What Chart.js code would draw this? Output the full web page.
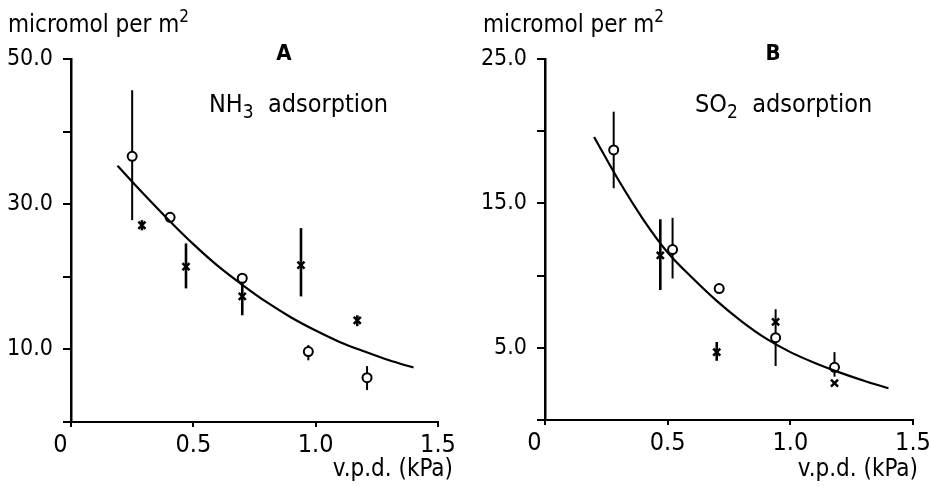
<!DOCTYPE html>
<html>
<head>
<meta charset="utf-8">
<script src="https://cdn.jsdelivr.net/npm/chart.js@4.4.1/dist/chart.umd.min.js"></script>
<style>
  html, body { margin: 0; padding: 0; background: #fff; }
  #wrap { position: relative; width: 931px; height: 486px; }
  canvas { position: absolute; top: 0; }
  #chartA { left: 0; }
  #chartB { left: 466px; }
</style>
</head>
<body>
<div id="wrap">
  <canvas id="chartA" width="466" height="486"></canvas>
  <canvas id="chartB" width="465" height="486"></canvas>
</div>
<script>
// ---- Panel A: NH3 adsorption (micromol per m2) against v.p.d. (kPa) ----
const nh3CircleVpd  = [0.25, 0.405, 0.70, 0.97, 1.21];
const nh3CircleVal  = [36.6, 28.2, 19.8, 9.7, 6.1];
const nh3CircleLow  = [27.8, null, null, 8.5, 4.4];
const nh3CircleHigh = [45.7, null, null, 10.6, 7.7];

const nh3CrossVpd  = [0.29, 0.47, 0.70, 0.94, 1.17];
const nh3CrossVal  = [27.1, 21.4, 17.3, 21.6, 14.0];
const nh3CrossLow  = [26.4, 18.4, 14.7, 17.3, 13.2];
const nh3CrossHigh = [27.8, 24.6, 19.6, 26.7, 14.7];

const nh3CurveVpd = [0.19, 0.3, 0.4, 0.5, 0.6, 0.7, 0.8, 0.9, 1.0, 1.1, 1.2, 1.3, 1.4];
const nh3CurveVal = [35.3, 31.3, 27.8, 24.5, 21.5, 18.9, 16.5, 14.4, 12.6, 11.0, 9.7, 8.5, 7.5];

// ---- Panel B: SO2 adsorption ----
const so2CircleVpd  = [0.28, 0.52, 0.71, 0.94, 1.18];
const so2CircleVal  = [18.7, 11.8, 9.1, 5.7, 3.65];
const so2CircleLow  = [16.05, 9.8, null, 3.74, 3.0];
const so2CircleHigh = [21.35, 14.0, null, 7.67, 4.7];

const so2CrossVpd  = [0.47, 0.70, 0.94, 1.18];
const so2CrossVal  = [11.4, 4.7, 6.8, 2.55];
const so2CrossLow  = [9.0, 4.1, null, null];
const so2CrossHigh = [13.9, 5.4, null, null];

const so2CurveVpd = [0.2, 0.3, 0.4, 0.5, 0.6, 0.7, 0.8, 0.9, 1.0, 1.1, 1.2, 1.3, 1.4];
const so2CurveVal = [19.6, 16.6, 13.9, 11.6, 9.85, 8.25, 6.85, 5.65, 4.7, 3.95, 3.3, 2.72, 2.2];

// ---- Axis ticks ----
const vpdTicks = [0, 0.5, 1.0, 1.5];
const nh3LabelledTicks = [50, 30, 10];
const so2LabelledTicks = [25, 15, 5];

const FONT = "'DejaVu Sans Condensed', 'Liberation Sans Narrow', 'DejaVu Sans', sans-serif";

const pts = (xs, ys) => xs.map((x, i) => ({ x: x, y: ys[i] }));

// vertical error bars, drawn under the markers
const errorBars = {
  id: 'errorBars',
  beforeDatasetsDraw(chart) {
    const ctx = chart.ctx, xs = chart.scales.x, ys = chart.scales.y;
    chart.data.datasets.forEach(ds => {
      if (!ds.errLow) return;
      ctx.save();
      ctx.strokeStyle = '#000';
      ctx.lineWidth = ds.errWidth || 2;
      ds.data.forEach((p, i) => {
        const lo = ds.errLow[i], hi = ds.errHigh[i];
        if (lo == null || hi == null) return;
        const px = xs.getPixelForValue(p.x);
        ctx.beginPath();
        ctx.moveTo(px, ys.getPixelForValue(lo));
        ctx.lineTo(px, ys.getPixelForValue(hi));
        ctx.stroke();
      });
      ctx.restore();
    });
  }
};

// free text runs (with sub/superscript pieces): axis title, panel letter, gas label
const panelText = {
  id: 'panelText',
  afterDraw(chart, args, opts) {
    const ctx = chart.ctx;
    ctx.save();
    ctx.fillStyle = '#000';
    ctx.textBaseline = 'alphabetic';
    (opts.items || []).forEach(it => {
      const parts = it.parts || [{ text: it.text }];
      const fontOf = pt => (pt.bold || it.bold ? 'bold ' : '') + (pt.size || it.size || 22) + 'px ' + FONT;
      let total = 0;
      parts.forEach(pt => { ctx.font = fontOf(pt); total += ctx.measureText(pt.text).width; });
      let x = it.x;
      if (it.align === 'center') x -= total / 2;
      else if (it.align === 'right') x -= total;
      ctx.textAlign = 'left';
      parts.forEach(pt => {
        ctx.font = fontOf(pt);
        ctx.fillText(pt.text, x, it.y + (pt.dy || 0));
        x += ctx.measureText(pt.text).width;
      });
    });
    ctx.restore();
  }
};

function makePanel(id, p) {
  return new Chart(document.getElementById(id), {
    type: 'scatter',
    data: {
      datasets: [
        {
          label: 'fit',
          data: pts(p.curveX, p.curveY),
          showLine: true,
          cubicInterpolationMode: 'monotone',
          borderColor: '#000',
          borderWidth: 2.2,
          pointRadius: 0,
          fill: false
        },
        {
          label: 'x',
          data: pts(p.crossX, p.crossY),
          errLow: p.crossLow, errHigh: p.crossHigh, errWidth: 2.6,
          pointStyle: 'crossRot',
          pointRadius: 5,
          borderColor: '#000',
          borderWidth: 2.5
        },
        {
          label: 'o',
          data: pts(p.circleX, p.circleY),
          errLow: p.circleLow, errHigh: p.circleHigh, errWidth: 2,
          pointStyle: 'circle',
          pointRadius: 4.5,
          backgroundColor: '#fff',
          borderColor: '#000',
          borderWidth: 2
        }
      ]
    },
    options: {
      responsive: false,
      animation: false,
      devicePixelRatio: 1,
      layout: { padding: { left: 0, top: 59, right: p.padRight, bottom: 0 } },
      plugins: {
        legend: { display: false },
        tooltip: { enabled: false },
        panelText: { items: p.texts }
      },
      scales: {
        x: {
          type: 'linear',
          min: 0, max: 1.5,
          afterBuildTicks: s => { s.ticks = vpdTicks.map(v => ({ value: v })); },
          afterFit: s => {
            s.height = p.xAxisHeight;
            // let the end labels overhang the plot edges freely
            s.paddingLeft = 0;
            s.paddingRight = 0;
          },
          ticks: {
            color: '#000',
            font: { family: FONT, size: 25 },
            padding: 3,
            maxRotation: 0,
            autoSkip: false,
            callback: v => (v === 0 ? '0   ' : v.toFixed(1))
          },
          grid: { drawOnChartArea: false, drawTicks: true, tickLength: 5, color: '#000', lineWidth: 2 },
          border: { display: true, color: '#000', width: 2 }
        },
        y: {
          type: 'linear',
          min: 0, max: p.yMax,
          afterFit: s => { s.width = p.yAxisWidth; },
          ticks: {
            stepSize: p.yStep,
            color: '#000',
            font: { family: FONT, size: 23 },
            padding: 10,
            autoSkip: false,
            callback: v => (p.labelled.includes(v) ? v.toFixed(1) : '')
          },
          grid: { drawOnChartArea: false, drawTicks: true, tickLength: 8, color: '#000', lineWidth: 2 },
          border: { display: true, color: '#000', width: 2.5 }
        }
      }
    },
    plugins: [errorBars, panelText]
  });
}

makePanel('chartA', {
  curveX: nh3CurveVpd, curveY: nh3CurveVal,
  crossX: nh3CrossVpd, crossY: nh3CrossVal, crossLow: nh3CrossLow, crossHigh: nh3CrossHigh,
  circleX: nh3CircleVpd, circleY: nh3CircleVal, circleLow: nh3CircleLow, circleHigh: nh3CircleHigh,
  yMax: 50, yStep: 10, labelled: nh3LabelledTicks,
  yAxisWidth: 71, xAxisHeight: 64, padRight: 28,
  texts: [
    { parts: [{ text: 'micromol per m', size: 24 }, { text: '2', size: 17, dy: -10 }], x: 8, y: 32 },
    { text: 'A', x: 284, y: 60, align: 'center', size: 22, bold: true },
    { parts: [{ text: 'NH', size: 25 }, { text: '3', size: 19, dy: 6 }, { text: '  adsorption', size: 25 }], x: 209, y: 112 },
    { text: 'v.p.d. (kPa)', x: 453, y: 476, align: 'right', size: 24 }
  ]
});

makePanel('chartB', {
  curveX: so2CurveVpd, curveY: so2CurveVal,
  crossX: so2CrossVpd, crossY: so2CrossVal, crossLow: so2CrossLow, crossHigh: so2CrossHigh,
  circleX: so2CircleVpd, circleY: so2CircleVal, circleLow: so2CircleLow, circleHigh: so2CircleHigh,
  yMax: 25, yStep: 5, labelled: so2LabelledTicks,
  yAxisWidth: 79, xAxisHeight: 66, padRight: 18,
  texts: [
    { parts: [{ text: 'micromol per m', size: 24 }, { text: '2', size: 17, dy: -10 }], x: 17, y: 32 },
    { text: 'B', x: 307, y: 60, align: 'center', size: 22, bold: true },
    { parts: [{ text: 'SO', size: 25 }, { text: '2', size: 19, dy: 6 }, { text: '  adsorption', size: 25 }], x: 229, y: 112 },
    { text: 'v.p.d. (kPa)', x: 452, y: 476, align: 'right', size: 24 }
  ]
});
</script>
</body>
</html>
